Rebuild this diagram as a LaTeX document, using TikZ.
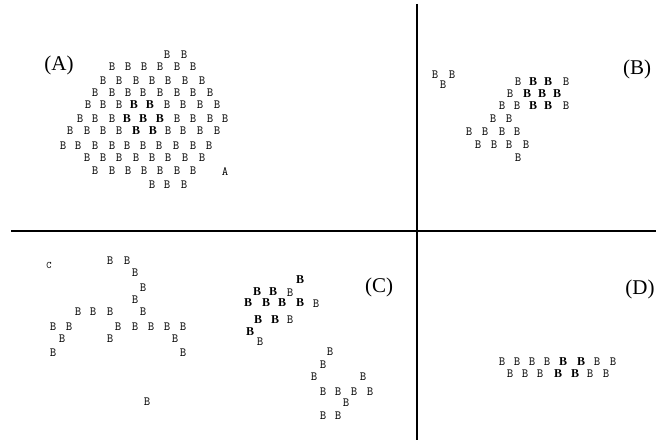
\documentclass[tikz,border=0pt]{standalone}
\usepackage{fontspec}
\setmainfont{Liberation Serif}
\tikzset{
  bb/.style={inner sep=0pt,font=\ttfamily\fontsize{12.5}{12.5}\selectfont},
  bbold/.style={inner sep=0pt,font=\bfseries\fontsize{12}{12}\selectfont},
  lbl/.style={inner sep=0pt,font=\fontsize{21}{21}\selectfont},
  axis/.style={line width=2.6pt}
}

\begin{document}
\begin{tikzpicture}[x=1pt,y=-1pt]
\useasboundingbox (0,0) rectangle (669,443);
% quadrant lines
\coordinate (top) at (417,4);
\coordinate (bottom) at (417,440);
\coordinate (left) at (11,231);
\coordinate (right) at (656,231);
\draw[axis] (top) -- (bottom);
\draw[axis] (left) -- (right);
% labels
\node[lbl] (labA) at (59,65) {(A)};
\node[lbl] (labB) at (637,69) {(B)};
\node[lbl] (labC) at (379,287) {(C)};
\node[lbl] (labD) at (640,289) {(D)};

% (A)
\foreach \x in {167,184} \node[bb] (a1-\x) at (\x,55) {B};
\foreach \x in {112,128,144,160,177,193} \node[bb] (a2-\x) at (\x,67) {B};
\foreach \x in {103,119,136,152,168,185,202} \node[bb] (a3-\x) at (\x,81) {B};
\foreach \x in {95,112,128,143,160,177,193,210} \node[bb] (a4-\x) at (\x,93) {B};
\foreach \x in {88,103,119,167,183,200,217} \node[bb] (a5-\x) at (\x,105) {B};
\foreach \x in {134,150} \node[bbold] (a5-\x) at (\x,105) {B};
\foreach \x in {80,95,112,177,193,210,225} \node[bb] (a6-\x) at (\x,119) {B};
\foreach \x in {127,143,160} \node[bbold] (a6-\x) at (\x,119) {B};
\foreach \x in {70,87,103,119,168,183,200,217} \node[bb] (a7-\x) at (\x,131) {B};
\foreach \x in {136,153} \node[bbold] (a7-\x) at (\x,131) {B};
\foreach \x in {63,78,95,112,127,143,159,176,193,209} \node[bb] (a8-\x) at (\x,146) {B};
\foreach \x in {87,103,119,136,152,168,185,202} \node[bb] (a9-\x) at (\x,158) {B};
\foreach \x in {95,112,128,144,160,177,193} \node[bb] (a10-\x) at (\x,171) {B};
\node[bb] (aA) at (225,172) {A};
\foreach \x in {152,167,184} \node[bb] (a11-\x) at (\x,185) {B};

% (B)
\foreach \x in {435,452} \node[bb] (b0-\x) at (\x,75) {B};
\node[bb] (b0) at (443,85) {B};
\foreach \x in {518,566} \node[bb] (b1-\x) at (\x,82) {B};
\foreach \x in {533,548} \node[bbold] (b1-\x) at (\x,82) {B};
\node[bb] (b2-510) at (510,94) {B};
\foreach \x in {527,542,557} \node[bbold] (b2-\x) at (\x,94) {B};
\foreach \x in {502,517,566} \node[bb] (b3-\x) at (\x,106) {B};
\foreach \x in {533,548} \node[bbold] (b3-\x) at (\x,106) {B};
\foreach \x in {493,509} \node[bb] (b4-\x) at (\x,119) {B};
\foreach \x in {469,485,502,517} \node[bb] (b5-\x) at (\x,132) {B};
\foreach \x in {478,494,509,526} \node[bb] (b6-\x) at (\x,145) {B};
\node[bb] (b7) at (518,158) {B};

% (C) left
\node[bb,font=\ttfamily\fontsize{10}{10}\selectfont] (cC) at (49,265) {C};
\foreach \x in {110,127} \node[bb] (c1-\x) at (\x,261) {B};
\node[bb] (c2) at (135,273) {B};
\node[bb] (c3) at (143,288) {B};
\node[bb] (c4) at (135,300) {B};
\foreach \x in {78,93,110,143} \node[bb] (c5-\x) at (\x,312) {B};
\foreach \x in {53,69,118,135,151,167,183} \node[bb] (c6-\x) at (\x,327) {B};
\foreach \x in {62,110,175} \node[bb] (c7-\x) at (\x,339) {B};
\foreach \x in {53,183} \node[bb] (c8-\x) at (\x,353) {B};
\node[bb] (c9) at (147,402) {B};

% (C) right
\node[bbold] (d1) at (300,280) {B};
\foreach \x in {257,273} \node[bbold] (d2-\x) at (\x,292) {B};
\node[bb] (d2-290) at (290,293) {B};
\foreach \x in {248,266,282,300} \node[bbold] (d3-\x) at (\x,303) {B};
\node[bb] (d3-316) at (316,304) {B};
\foreach \x in {258,275} \node[bbold] (d4-\x) at (\x,320) {B};
\node[bb] (d4-290) at (290,320) {B};
\node[bbold] (d5) at (250,332) {B};
\node[bb] (d6) at (260,342) {B};
\node[bb] (e1) at (330,352) {B};
\node[bb] (e2) at (323,365) {B};
\foreach \x in {314,363} \node[bb] (e3-\x) at (\x,377) {B};
\foreach \x in {323,338,354,370} \node[bb] (e4-\x) at (\x,392) {B};
\node[bb] (e5) at (346,403) {B};
\foreach \x in {323,338} \node[bb] (e6-\x) at (\x,416) {B};

% (D)
\foreach \x in {502,517,532,547,597,613} \node[bb] (f1-\x) at (\x,362) {B};
\foreach \x in {563,581} \node[bbold] (f1-\x) at (\x,362) {B};
\foreach \x in {510,525,540,590,606} \node[bb] (f2-\x) at (\x,374) {B};
\foreach \x in {558,575} \node[bbold] (f2-\x) at (\x,374) {B};
\end{tikzpicture}
\end{document}
